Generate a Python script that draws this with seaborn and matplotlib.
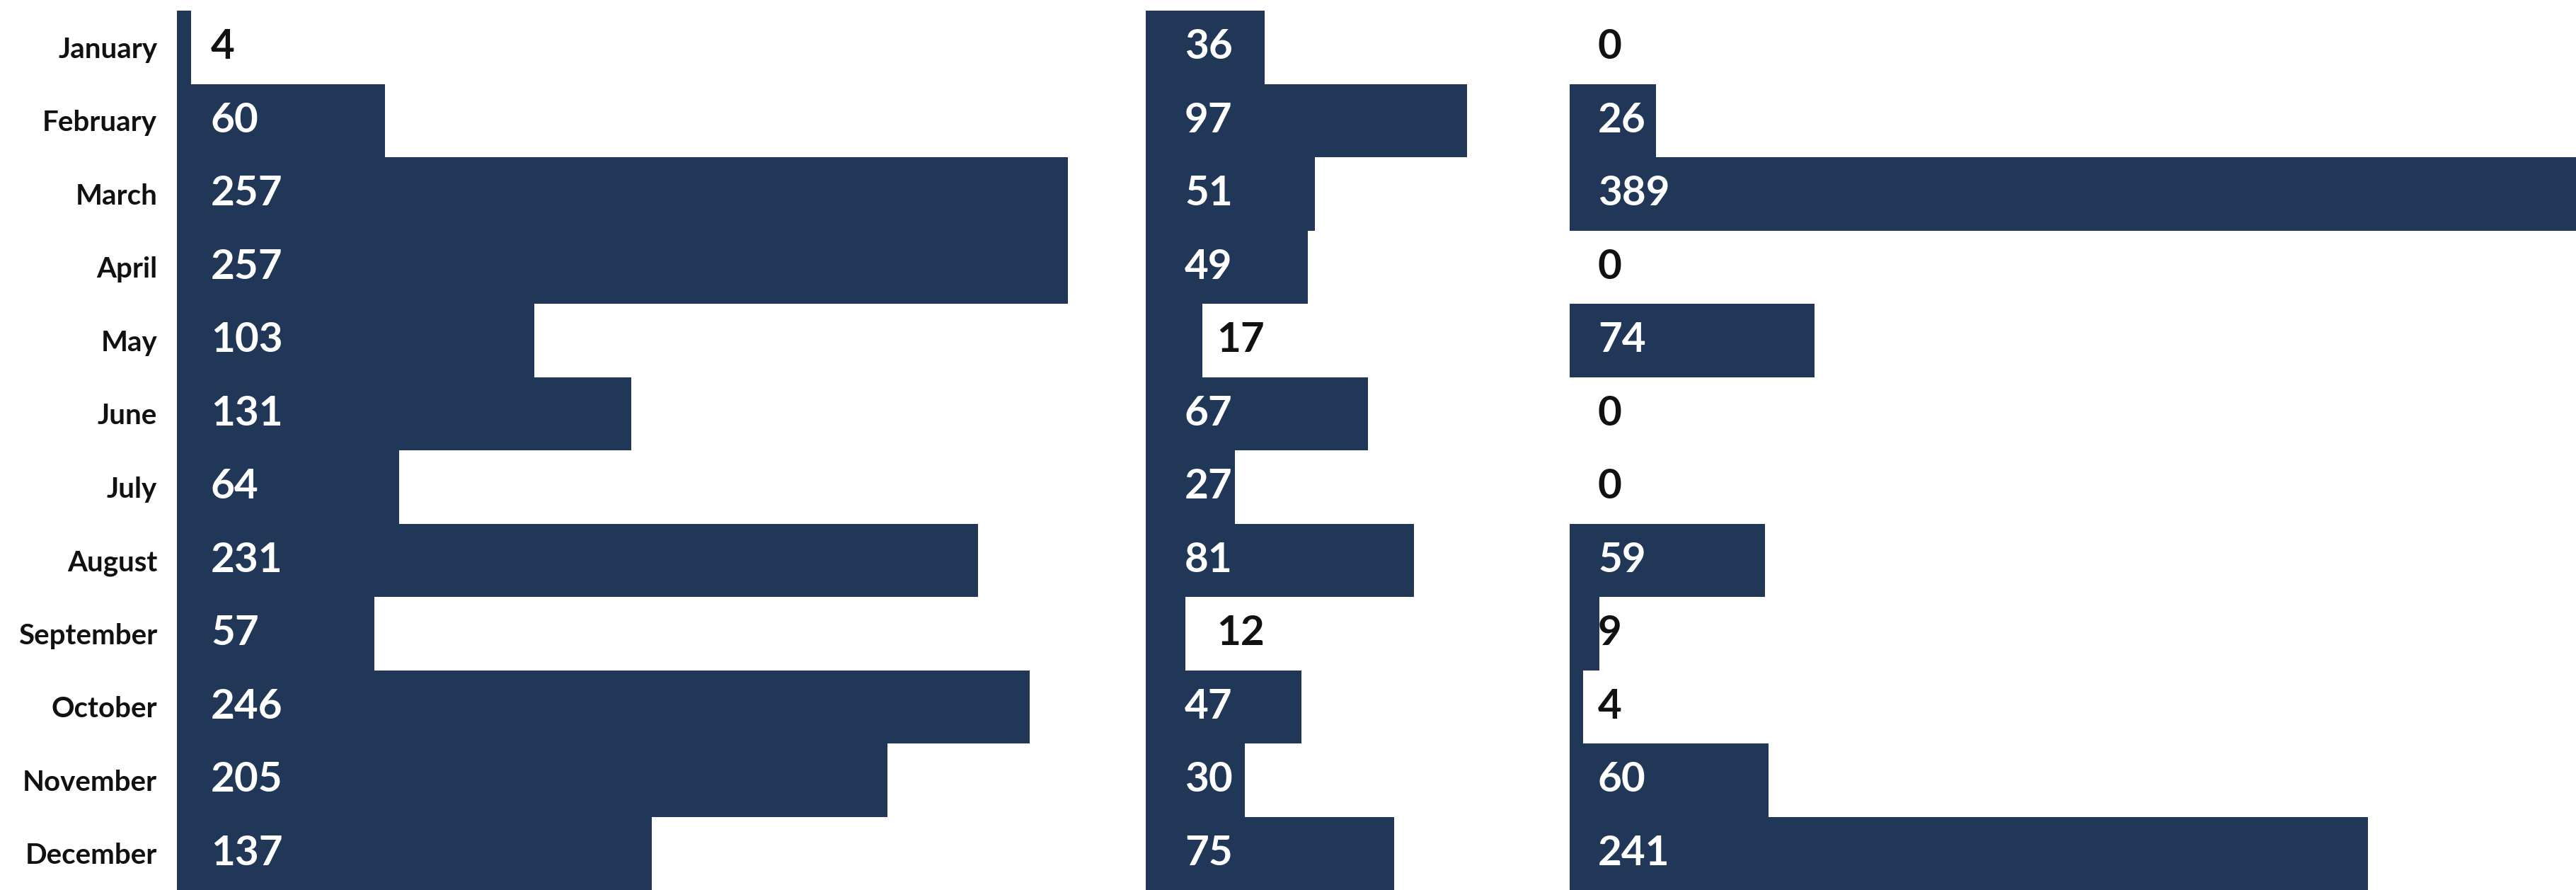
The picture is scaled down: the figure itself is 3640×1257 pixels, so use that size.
import matplotlib
matplotlib.use("Agg")
import matplotlib.pyplot as plt
import numpy as np
import pandas as pd
import seaborn as sns

# Data
months = ["January", "February", "March", "April", "May", "June", "July",
          "August", "September", "October", "November", "December"]
series_a = [4, 60, 257, 257, 103, 131, 64, 231, 57, 246, 205, 137]
series_b = [36, 97, 51, 49, 17, 67, 27, 81, 12, 47, 30, 75]
series_c = [0, 26, 389, 0, 74, 0, 0, 59, 9, 4, 60, 241]

BAR = "#203757"
W, H = 3641, 1257
DPI = 100

sns.set_style("white")
plt.rcParams['font.family'] = ['Lato', 'DejaVu Sans']

fig = plt.figure(figsize=(W / DPI, H / DPI), dpi=DPI)
fig.patch.set_facecolor("white")

top_px = 15
bottom_px = H

# (left px, right px, pixels per unit, label offset px, offset for small values px)
panels = [
    (250, 1615, 4.90, 48, 48, series_a),
    (1619, 2214, 4.68, 55, 100, series_b),
    (2218, W, 4.68, 40, 40, series_c),
]

for i, (left, right, ppu, off, off_small, vals) in enumerate(panels):
    ax = fig.add_axes([left / W, 1 - bottom_px / H, (right - left) / W, (bottom_px - top_px) / H])
    df = pd.DataFrame({"month": months, "value": vals})
    sns.barplot(data=df, x="value", y="month", orient="h", color=BAR,
                saturation=1, width=1.0, linewidth=0, ax=ax)
    ax.set_xlim(0, (right - left) / ppu)
    ax.set_ylim(len(months) - 0.5, -0.5)
    ax.set_xlabel("")
    ax.set_ylabel("")
    ax.set_xticks([])
    for s in ax.spines.values():
        s.set_visible(False)
    ax.set_facecolor("none")
    if i == 0:
        ax.tick_params(axis="y", length=0, pad=20)
        for t in ax.get_yticklabels():
            t.set_fontsize(29)
            t.set_fontweight("bold")
            t.set_color("#111111")
    else:
        ax.set_yticks([])
    for j, v in enumerate(vals):
        white = v >= 20
        xo = (off if white else off_small) / ppu
        ax.text(xo, j, str(v), ha="left", va="center", fontsize=42,
                fontweight="bold", color="white" if white else "#111111")

fig.savefig("out.png", dpi=DPI, facecolor="white")
